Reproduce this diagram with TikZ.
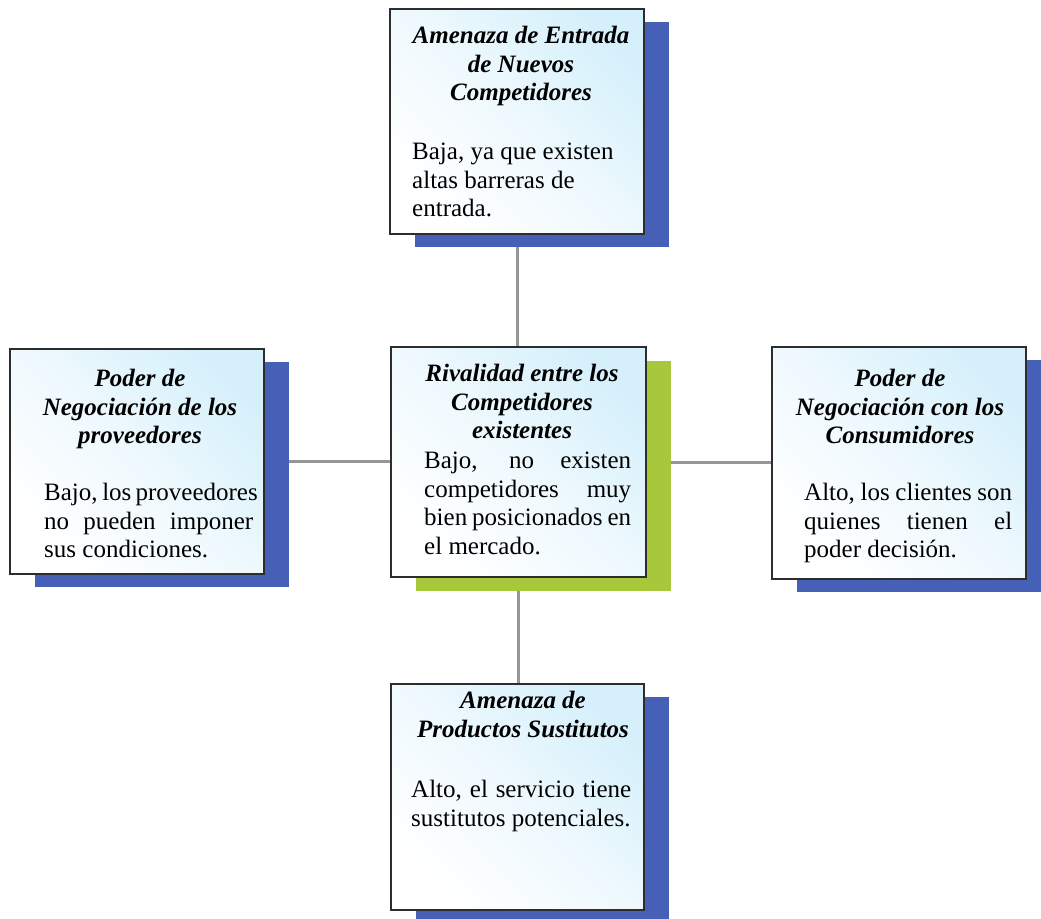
\documentclass[tikz,border=0pt]{standalone}
\usepackage{fontspec}
\setmainfont{Liberation Serif}
\usetikzlibrary{shadows,backgrounds}

\definecolor{shadowblue}{RGB}{70,96,184}
\definecolor{shadowgreen}{RGB}{168,200,60}
\definecolor{boxtint}{RGB}{214,240,251}
\definecolor{boxline}{RGB}{45,45,45}
\definecolor{linkgray}{RGB}{150,150,150}

% a line of text stretched to the full column width
\newcommand\jline[2]{\makebox[#1][s]{#2}}

\begin{document}
\begin{tikzpicture}[x=1pt,y=-1pt,
  forcebox/.style={draw=boxline, line width=1.8pt, top color=boxtint, bottom color=white,
                   middle color=white!60!boxtint, shading angle=-45, inner sep=0pt},
  blueshade/.style={drop shadow={fill=shadowblue, opacity=1, shadow xshift=25pt, shadow yshift=-13pt}},
  greenshade/.style={drop shadow={fill=shadowgreen, opacity=1, shadow xshift=25pt, shadow yshift=-14pt}},
  title/.style={anchor=north, align=center, inner sep=0pt,
                font=\fontsize{25}{28.8}\selectfont\bfseries\itshape},
  body/.style={anchor=north west, align=left, inner sep=0pt,
               font=\fontsize{25}{28.8}\selectfont},
  link/.style={draw=linkgray, line width=3pt}]

\useasboundingbox (0,0) rectangle (1041,918);
\clip (0,0) rectangle (1041,918);

% the five forces
\node[forcebox, blueshade, minimum width=254pt, minimum height=225pt] (entrada) at (517,121.5) {};
\node[forcebox, blueshade, minimum width=254pt, minimum height=225pt] (proveedores) at (137,461.5) {};
\node[forcebox, greenshade, minimum width=255pt, minimum height=230pt] (rivalidad) at (518.5,462) {};
\node[forcebox, blueshade, minimum width=254pt, minimum height=232pt] (consumidores) at (899,463) {};
\node[forcebox, blueshade, minimum width=253pt, minimum height=226pt] (sustitutos) at (517.5,797) {};

% connectors behind the boxes
\begin{pgfonlayer}{background}
  \draw[link] (entrada.south) -- (entrada.south |- rivalidad.north);
  \draw[link] (proveedores.east) -- (proveedores.east -| rivalidad.west);
  \draw[link] (rivalidad.east) -- (rivalidad.east -| consumidores.west);
  \draw[link] (rivalidad.south) -- (rivalidad.south |- sustitutos.north);
\end{pgfonlayer}

% texts
\node[title] (entrada-t) at (521,22.9) {\strut Amenaza de Entrada\\de Nuevos\\Competidores};
\node[body] (entrada-b) at (412,138.9) {\strut Baja, ya que existen\\altas barreras de\\entrada.};

\node[title] (proveedores-t) at (140,365.9) {\strut Poder de\\Negociación de los\\proveedores};
\node[body] (proveedores-b) at (44,479.9) {\strut\jline{209pt}{Bajo, los proveedores}\\
  \jline{209pt}{no pueden imponer}\\sus condiciones.};

\node[title] (rivalidad-t) at (522,360.9) {\strut Rivalidad entre los\\Competidores\\existentes};
\node[body] (rivalidad-b) at (424,447.9) {\strut\jline{207pt}{Bajo, no existen}\\
  \jline{207pt}{competidores muy}\\\jline{207pt}{bien posicionados en}\\el mercado.};

\node[title] (consumidores-t) at (900,365.9) {\strut Poder de\\Negociación con los\\Consumidores};
\node[body] (consumidores-b) at (804,479.9) {\strut\jline{208pt}{Alto, los clientes son}\\
  \jline{208pt}{quienes tienen el}\\poder decisión.};

\node[title] (sustitutos-t) at (523,687.9) {\strut Amenaza de\\Productos Sustitutos};
\node[body] (sustitutos-b) at (411,776.9) {\strut\jline{220pt}{Alto, el servicio tiene}\\
  sustitutos potenciales.};

\end{tikzpicture}
\end{document}
